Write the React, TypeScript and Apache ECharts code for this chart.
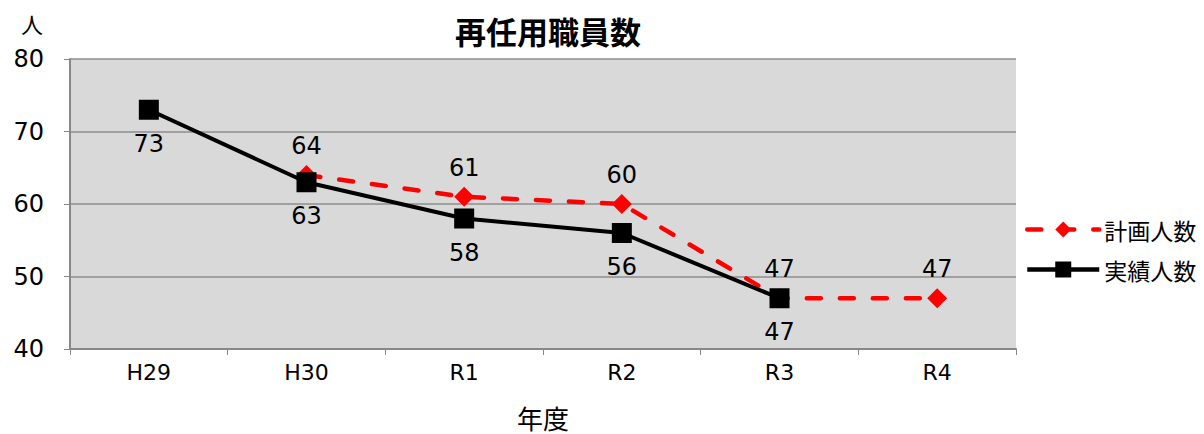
import React, { useEffect, useRef } from "react";
import * as echarts from "echarts";

const categories = ["H29", "H30", "R1", "R2", "R3", "R4"];
const planned = [null, 64, 61, 60, 47, 47];
const actual = [73, 63, 58, 56, 47, null];
const FONT = "'DejaVu Sans', 'Noto Sans CJK JP', sans-serif";
const CJK = "'Noto Sans CJK JP', sans-serif";

export default function App() {
  const ref = useRef<HTMLDivElement>(null);
  useEffect(() => {
    const chart = echarts.init(ref.current!, null, { renderer: "svg" });
    chart.setOption({
      animation: false,
      backgroundColor: "#fff",
      textStyle: { fontFamily: FONT },
      title: {
        text: "再任用職員数",
        left: 543,
        top: 10,
        textAlign: "center",
        textStyle: { fontSize: 31, fontWeight: "bold", color: "#000", fontFamily: CJK },
      },
      legend: {
        orient: "vertical",
        left: 1020,
        top: 213,
        itemGap: 17,
        itemWidth: 72,
        itemHeight: 20,
        lineStyle: { width: 4.5 },
        textStyle: { fontSize: 23, color: "#000", fontFamily: CJK },
        data: ["計画人数", "実績人数"],
      },
      grid: {
        left: 70,
        top: 59,
        right: 188,
        bottom: 85,
        show: true,
        backgroundColor: "#d9d9d9",
        borderWidth: 0,
        containLabel: false,
        outerBoundsMode: "none",
      },
      xAxis: {
        type: "category",
        data: categories,
        boundaryGap: true,
        name: "年度",
        nameLocation: "middle",
        nameGap: 55,
        nameTextStyle: { fontSize: 26, lineHeight: 26, color: "#000", fontFamily: CJK },
        axisLine: { lineStyle: { color: "#888", width: 2 } },
        axisTick: { show: true, length: 6, lineStyle: { color: "#888" } },
        axisLabel: { fontSize: 22, color: "#000", margin: 12, fontFamily: FONT },
      },
      yAxis: {
        type: "value",
        min: 40,
        max: 80,
        interval: 10,
        name: "人",
        nameLocation: "end",
        nameGap: 25,
        nameTextStyle: { fontSize: 22, color: "#000", align: "right", padding: [0, 27, 0, 0], fontFamily: CJK },
        axisLine: { show: true, lineStyle: { color: "#888", width: 2 } },
        axisTick: { show: true, length: 6, lineStyle: { color: "#888" } },
        axisLabel: { fontSize: 24, color: "#000", margin: 26, fontFamily: FONT },
        splitLine: { lineStyle: { color: "#8c8c8c", width: 1.5 } },
      },
      series: [
        {
          name: "計画人数",
          type: "line",
          data: planned,
          symbol: "diamond",
          symbolSize: 20,
          itemStyle: { color: "#ff0000" },
          lineStyle: { color: "#ff0000", width: 4.5, type: [14, 19], cap: "round" },
          label: { show: true, position: "top", distance: 7, fontSize: 24, color: "#000", fontFamily: FONT },
          z: 2,
        },
        {
          name: "実績人数",
          type: "line",
          data: actual,
          symbol: "rect",
          symbolSize: 20,
          itemStyle: { color: "#000" },
          lineStyle: { color: "#000", width: 4 },
          label: { show: true, position: "bottom", distance: 12, fontSize: 24, color: "#000", fontFamily: FONT },
          z: 3,
        },
      ],
    });
    return () => chart.dispose();
  }, []);
  return <div ref={ref} style={{ width: 1204, height: 434, position: "absolute", left: 0, top: 0 }} />;
}
